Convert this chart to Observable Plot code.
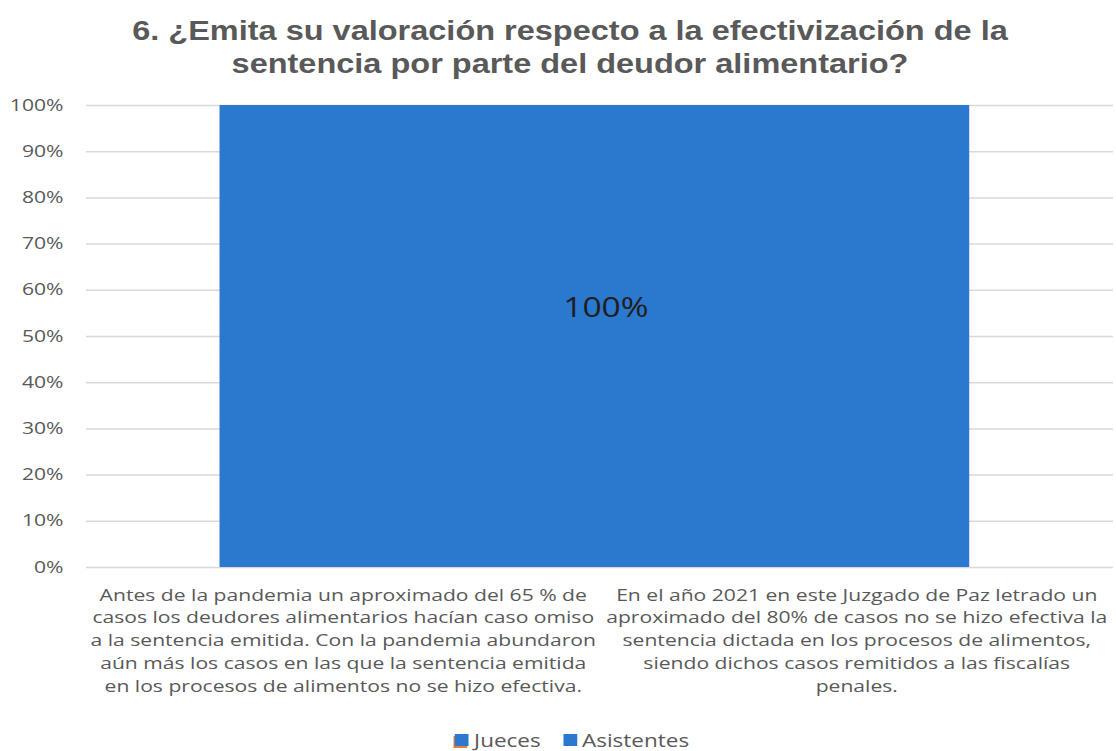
<!DOCTYPE html>
<html>
<head>
<meta charset="utf-8">
<script src="https://cdn.jsdelivr.net/npm/d3@7"></script>
<script src="https://cdn.jsdelivr.net/npm/@observablehq/plot@0.6"></script>
<style>
  body { margin: 0; background: #fff; }
  #wrap { width: 1116px; height: 751px; position: relative; overflow: hidden; }
  #title { position: absolute; left: 0; top: 14px; width: 1140px; text-align: center;
    font-family: "Liberation Sans", Arial, sans-serif; font-weight: bold; font-size: 28px;
    line-height: 33px; color: #595959; transform: scaleX(1.16); transform-origin: 570px 0; }
  #chart { position: absolute; left: 0; top: 80px; }
  #legend { position: absolute; top: 729px; left: 0; width: 1146px; display: flex; justify-content: center;
    gap: 18px; font-family: "Open Sans", sans-serif; font-size: 18px; line-height: 22px; color: #595959;
    transform: scaleX(1.25); transform-origin: 576px 0; }
  #legend span.item { display: flex; align-items: center; gap: 4px; }
  #legend span.sw { display: inline-block; width: 11px; height: 12px; }
</style>
</head>
<body>
<div id="wrap">
  <div id="title">6. ¿Emita su valoración respecto a la efectivización de la<br>sentencia por parte del deudor alimentario?</div>
  <div id="chart"></div>
  <div id="legend"></div>
</div>
<script>
// ---- data ----
const categories = [
  "Antes de la pandemia un aproximado del 65 % de\ncasos los deudores alimentarios hacían caso omiso\na la sentencia emitida. Con la pandemia abundaron\naún más los casos en las que la sentencia emitida\nen los procesos de alimentos no se hizo efectiva.",
  "En el año 2021 en este Juzgado de Paz letrado un\naproximado del 80% de casos no se hizo efectiva la\nsentencia dictada en los procesos de alimentos,\nsiendo dichos casos remitidos a las fiscalías\npenales."
];
const seriesNames = ["Jueces", "Asistentes"];
const seriesColors = ["#2B78CF", "#2B78CF"];
const barValues = [1.0];          // single 100% bar
const barLabels = ["100%"];
const yTicks = [0, 0.1, 0.2, 0.3, 0.4, 0.5, 0.6, 0.7, 0.8, 0.9, 1.0];

// ---- layout constants ----
const barCenter = 0.99;   // bar sits between the two category slots
const barWidth = 1.46;    // in category units

const bars = barValues.map((v, i) => ({x1: barCenter - barWidth / 2, x2: barCenter + barWidth / 2, y: v, label: barLabels[i]}));
const cats = categories.map((c, i) => ({x: i + 0.5, text: c}));

const font = "'Open Sans', sans-serif";
const chart = Plot.plot({
  width: 1116,
  height: 640,
  marginTop: 25,
  marginBottom: 153,
  marginLeft: 86,
  marginRight: 3,
  x: {domain: [0, categories.length], axis: null},
  y: {domain: [0, 1], axis: null},
  style: {fontFamily: font, background: "#fff"},
  marks: [
    Plot.ruleY(yTicks, {stroke: "#d9d9d9", strokeWidth: 1.5}),
    Plot.rectY(bars, {x1: "x1", x2: "x2", y: "y", fill: seriesColors[1]}),
    Plot.text(yTicks, {x: 0, y: d => d, text: d => d3.format(".0%")(d), textAnchor: "end", dx: -23,
      fill: "#595959", fontSize: 16, fontFamily: font}),
    Plot.text(bars, {x: d => (d.x1 + d.x2) / 2, y: d => d.y / 2, text: "label", dx: 11, dy: -28, fill: "#1e1e1e",
      fontSize: 28, fontFamily: font}),
    Plot.text(cats, {x: "x", y: 0, text: "text", lineAnchor: "top", dy: 17,
      lineHeight: 1.42, fill: "#595959", fontSize: 16, fontFamily: font})
  ]
});
document.getElementById("chart").appendChild(chart);

// horizontal stretch of text glyphs to match the reference rendering
const stretch = [1.32, 1.2, 1.32];
d3.select(chart).selectAll("g[aria-label='text']").each(function(_, gi) {
  const k = stretch[gi] ?? 1;
  d3.select(this).selectAll("text").each(function() {
    const t = this.getAttribute("transform");
    if (t) {
      this.setAttribute("transform", t + ` scale(${k},1)`);
    } else {
      const x = +(this.getAttribute("x") || 0), y = +(this.getAttribute("y") || 0);
      this.removeAttribute("x"); this.removeAttribute("y");
      this.setAttribute("transform", `translate(${x},${y}) scale(${k},1)`);
    }
  });
});

const legend = document.getElementById("legend");
seriesNames.forEach((s, i) => {
  const item = document.createElement("span");
  item.className = "item";
  const sw = document.createElement("span");
  sw.className = "sw";
  sw.style.background = seriesColors[i];
  if (i === 0) sw.style.boxShadow = "-1px 2px 0 #ED7D31";
  item.appendChild(sw);
  item.appendChild(document.createTextNode(s));
  legend.appendChild(item);
});
</script>
</body>
</html>
